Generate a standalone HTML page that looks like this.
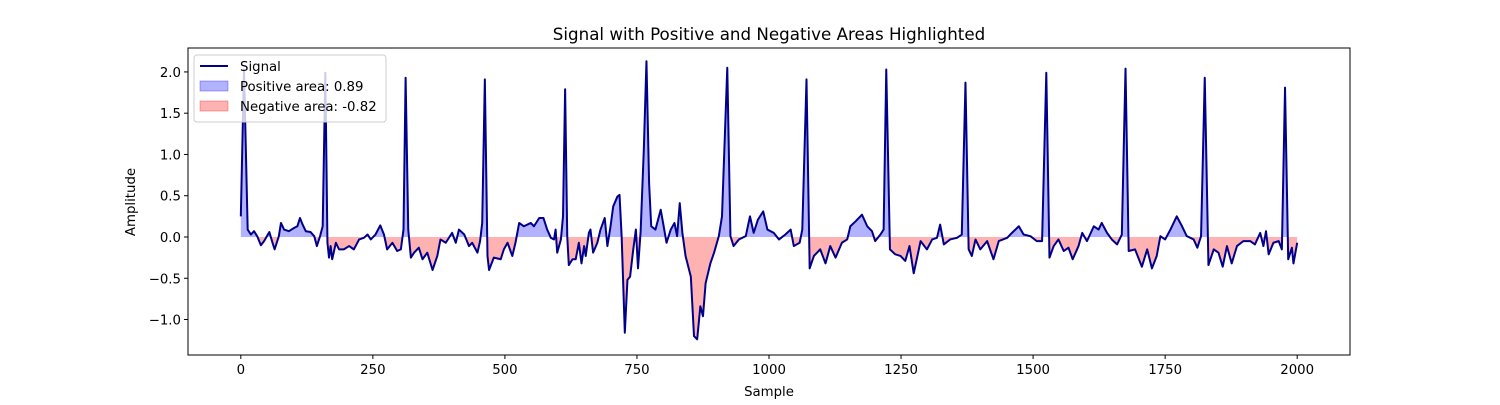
<!DOCTYPE html>
<html><head><meta charset="utf-8">
<style>
body{margin:0;background:#fff;font-family:"Liberation Sans","DejaVu Sans",sans-serif;}
svg text{font-family:"DejaVu Sans","Liberation Sans",sans-serif;}
</style></head>
<body>
<svg id="chart" width="1500" height="400" xmlns="http://www.w3.org/2000/svg">
<rect width="1500" height="400" fill="#fff"/>
<defs>
<clipPath id="clipPos"><rect id="cpPos" x="188" y="48" width="1162" height="189"/></clipPath>
<clipPath id="clipNeg"><rect id="cpNeg" x="188" y="237" width="1162" height="118"/></clipPath>
</defs>
<g id="fills"></g>
<g id="lines"></g>
<rect x="188" y="48" width="1162" height="307" fill="none" stroke="#000" stroke-width="1"/>
<g id="xticks"></g>
<g id="yticks"></g>
<text x="769" y="40" font-size="16.7" text-anchor="middle">Signal with Positive and Negative Areas Highlighted</text>
<text x="769" y="396" font-size="13.3" text-anchor="middle">Sample</text>
<text x="135" y="202" font-size="13.3" text-anchor="middle" transform="rotate(-90 135 202)">Amplitude</text>
<g>
<rect x="194" y="55" width="192" height="67" rx="3" fill="#fff" fill-opacity="0.8" stroke="#ccc"/>
<g>
<line x1="200" y1="66" x2="228" y2="66" stroke="#00008b" stroke-width="2"/>
<text x="240" y="71" font-size="13.3">Signal</text></g>
<g>
<rect x="200" y="81" width="28" height="10" fill="#0000ff" fill-opacity="0.3" stroke="#0000ff" stroke-opacity="0.3"/>
<text x="240" y="91" font-size="13.3">Positive area: 0.89</text></g>
<g>
<rect x="200" y="101" width="28" height="10" fill="#ff0000" fill-opacity="0.3" stroke="#ff0000" stroke-opacity="0.3"/>
<text x="240" y="111" font-size="13.3">Negative area: -0.82</text></g>
</g>
</svg>
<script>
const samples=[0,6,13,19,25,31,38,44,54,60,64,72,76,82,91,101,107,112,117,123,132,139,144,150,155,160,164,167,170,173,180,186,195,205,214,224,233,240,246,255,264,271,277,287,296,303,308,312,317,322,328,337,344,353,363,372,378,388,400,407,413,423,432,438,448,453,457,462,467,470,479,492,498,505,514,520,527,536,549,555,565,573,580,587,593,596,599,606,610,614,618,621,628,634,640,645,650,653,659,662,667,675,681,689,694,700,705,713,717,721,727,732,737,743,748,752,757,763,768,773,777,785,795,800,806,814,821,826,831,836,842,852,858,864,870,875,880,889,896,905,911,921,927,933,943,956,964,971,979,989,997,1009,1019,1031,1041,1047,1058,1063,1071,1077,1085,1097,1107,1116,1126,1138,1148,1154,1164,1176,1186,1195,1201,1211,1217,1222,1229,1239,1249,1258,1266,1274,1287,1299,1309,1318,1324,1331,1343,1356,1365,1372,1378,1384,1391,1400,1413,1425,1435,1451,1460,1473,1482,1495,1507,1517,1525,1531,1539,1548,1558,1567,1575,1586,1593,1602,1615,1624,1630,1640,1649,1659,1668,1675,1681,1693,1706,1716,1725,1734,1741,1750,1760,1772,1782,1791,1804,1811,1818,1825,1832,1842,1851,1859,1867,1876,1886,1898,1911,1920,1930,1936,1941,1946,1955,1965,1971,1977,1983,1990,1993,2000];
const amplitudes=[0.25,2.03,0.09,0.03,0.07,0.01,-0.1,-0.05,0.06,-0.07,-0.15,0.01,0.17,0.09,0.07,0.11,0.13,0.23,0.15,0.07,0.06,0.01,-0.11,0.01,0.13,1.99,-0.07,-0.25,-0.11,-0.27,-0.07,-0.15,-0.15,-0.11,-0.15,-0.03,-0.01,0.03,-0.03,0.03,0.14,0.03,-0.15,-0.07,-0.17,-0.15,0.09,1.93,0.09,-0.25,-0.19,-0.13,-0.27,-0.19,-0.4,-0.23,-0.03,-0.07,0.05,-0.07,0.09,0.03,-0.11,-0.07,-0.19,-0.05,0.17,1.91,-0.23,-0.4,-0.25,-0.27,-0.15,-0.07,-0.23,-0.07,0.17,0.13,0.17,0.13,0.23,0.23,0.09,-0.01,-0.03,0.09,-0.19,-0.03,0.25,1.79,0.01,-0.34,-0.27,-0.27,-0.07,-0.32,-0.11,-0.23,0.05,0.09,-0.19,-0.07,0.09,0.23,-0.11,0.13,0.37,0.49,0.51,0.01,-1.16,-0.52,-0.48,-0.15,0.09,-0.38,0.07,1.06,2.13,0.65,0.13,0.09,0.33,0.15,-0.07,0.09,0.17,0.01,0.41,0.05,-0.23,-0.48,-1.2,-1.24,-0.84,-0.96,-0.56,-0.32,-0.19,0.01,0.25,2.05,0.01,-0.11,-0.03,0.01,0.25,0.05,0.21,0.31,0.09,0.05,-0.03,0.03,0.09,-0.11,-0.07,0.09,1.91,-0.38,-0.23,-0.15,-0.32,-0.11,-0.25,-0.07,-0.03,0.13,0.19,0.27,0.13,0.07,-0.05,0.03,0.09,2.03,-0.15,-0.21,-0.23,-0.29,-0.11,-0.44,-0.05,-0.15,-0.03,-0.01,0.15,-0.09,-0.03,-0.01,0.03,1.87,-0.15,-0.23,-0.03,-0.15,-0.05,-0.27,-0.05,-0.01,0.05,0.13,0.03,0.01,-0.05,-0.05,1.99,-0.25,-0.11,-0.03,-0.17,-0.13,-0.27,-0.11,0.05,-0.05,0.13,0.09,0.17,0.05,-0.03,-0.09,0.03,2.04,-0.17,-0.15,-0.36,-0.15,-0.38,-0.23,0.01,-0.03,0.09,0.25,0.13,0.01,-0.03,-0.13,0.01,1.93,-0.34,-0.15,-0.19,-0.36,-0.11,-0.32,-0.11,-0.05,-0.05,-0.09,0.05,-0.11,0.07,-0.21,-0.07,-0.05,-0.15,1.81,-0.27,-0.13,-0.32,-0.07];
const xTickValues=[0,250,500,750,1000,1250,1500,1750,2000];
const yTickValues=[-1.0,-0.5,0.0,0.5,1.0,1.5,2.0];

const NS='http://www.w3.org/2000/svg';
const X0=188,X1=1350,Y0=48,Y1=355,xmin=-100,xmax=2100,ymin=-1.43,ymax=2.29;
const xs=v=>X0+(v-xmin)/(xmax-xmin)*(X1-X0);
const ys=v=>Y1-(v-ymin)/(ymax-ymin)*(Y1-Y0);
const z=ys(0);
document.getElementById('cpPos').setAttribute('height',z-Y0);
document.getElementById('cpNeg').setAttribute('y',z);
document.getElementById('cpNeg').setAttribute('height',Y1-z);
let line=samples.map((s,i)=>(i?'L':'M')+xs(s).toFixed(2)+','+ys(amplitudes[i]).toFixed(2)).join('');
let area=line+'L'+xs(samples[samples.length-1])+','+z+'L'+xs(samples[0])+','+z+'Z';
const fills=document.getElementById('fills');
const pos=document.createElementNS(NS,'path');
pos.setAttribute('d',area);pos.setAttribute('fill','rgba(0,0,255,0.3)');pos.setAttribute('clip-path','url(#clipPos)');


fills.appendChild(pos);
const neg=document.createElementNS(NS,'path');
neg.setAttribute('d',area);neg.setAttribute('fill','rgba(255,0,0,0.3)');neg.setAttribute('clip-path','url(#clipNeg)');


fills.appendChild(neg);
const lp=document.createElementNS(NS,'path');
lp.setAttribute('d',line);lp.setAttribute('fill','none');lp.setAttribute('stroke','#00008b');lp.setAttribute('stroke-width','2');lp.setAttribute('stroke-linejoin','round');


document.getElementById('lines').appendChild(lp);
const xt=document.getElementById('xticks');
xTickValues.forEach(v=>{
  const g=document.createElementNS(NS,'g');
  
  
  const x=xs(v);
  g.innerHTML=`<line x1="${x}" y1="${Y1}" x2="${x}" y2="${Y1+4}" stroke="#000"/><text x="${x}" y="${Y1+19}" font-size="13.3" text-anchor="middle">${v}</text>`;
  xt.appendChild(g);
});
const yt=document.getElementById('yticks');
yTickValues.forEach(v=>{
  const g=document.createElementNS(NS,'g');
  
  
  const y=ys(v);
  const lab=(v<0?'\u2212':'')+Math.abs(v).toFixed(1);
  g.innerHTML=`<line x1="${X0-4}" y1="${y}" x2="${X0}" y2="${y}" stroke="#000"/><text x="${X0-7}" y="${y+5}" font-size="13.3" text-anchor="end">${lab}</text>`;
  yt.appendChild(g);
});
</script>
</body></html>
